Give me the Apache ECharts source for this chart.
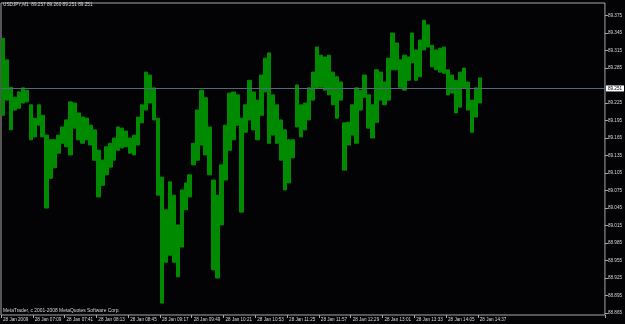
<!DOCTYPE html>
<html>
<head>
<meta charset="UTF-8">
<title>USDJPY,M1</title>
<script src="https://cdn.jsdelivr.net/npm/echarts@6/dist/echarts.min.js"></script>
<style>
  html, body { margin: 0; padding: 0; background: #030306; }
  #chart { width: 625px; height: 324px; }
</style>
</head>
<body>
<div id="chart"></div>
<script>
// highs / lows per 4-minute column
const highs = [
  89.336, 89.299, 89.252, 89.235, 89.244, 89.251, 89.247, 89.222, 89.199, 89.222,
  89.204, 89.170, 89.162, 89.162, 89.170, 89.184, 89.196, 89.227, 89.225, 89.208,
  89.201, 89.199, 89.187, 89.179, 89.144, 89.127, 89.150, 89.156, 89.165, 89.184,
  89.182, 89.177, 89.165, 89.170, 89.201, 89.222, 89.278, 89.273, 89.251, 89.199,
  89.098, 89.042, 89.090, 89.067, 89.016, 89.076, 89.088, 89.102, 89.156, 89.213,
  89.247, 89.234, 89.184, 89.093, 89.067, 89.119, 89.187, 89.242, 89.244, 89.239,
  89.199, 89.222, 89.264, 89.244, 89.230, 89.273, 89.302, 89.311, 89.239, 89.222,
  89.196, 89.179, 89.162, 89.162, 89.256, 89.222, 89.225, 89.251, 89.278, 89.321,
  89.307, 89.304, 89.307, 89.278, 89.270, 89.261, 89.191, 89.192, 89.222, 89.251,
  89.247, 89.273, 89.239, 89.222, 89.282, 89.278, 89.261, 89.302, 89.345, 89.328,
  89.299, 89.307, 89.304, 89.345, 89.316, 89.333, 89.367, 89.359, 89.324, 89.316,
  89.319, 89.321, 89.282, 89.273, 89.264, 89.278, 89.285, 89.261, 89.230, 89.251,
  89.268
];
const lows = [
  89.204, 89.230, 89.179, 89.213, 89.216, 89.225, 89.227, 89.162, 89.167, 89.187,
  89.167, 89.045, 89.096, 89.114, 89.139, 89.156, 89.150, 89.136, 89.182, 89.162,
  89.156, 89.162, 89.153, 89.127, 89.064, 89.084, 89.102, 89.115, 89.127, 89.144,
  89.148, 89.150, 89.139, 89.136, 89.153, 89.191, 89.213, 89.225, 89.196, 89.067,
  88.882, 88.952, 88.964, 88.952, 88.927, 88.978, 89.042, 89.064, 89.119, 89.127,
  89.153, 89.136, 89.102, 88.939, 88.925, 89.016, 89.093, 89.144, 89.162, 89.187,
  89.038, 89.175, 89.196, 89.179, 89.162, 89.204, 89.244, 89.156, 89.170, 89.156,
  89.127, 89.076, 89.088, 89.131, 89.184, 89.167, 89.179, 89.196, 89.230, 89.251,
  89.252, 89.247, 89.239, 89.222, 89.199, 89.230, 89.110, 89.153, 89.170, 89.156,
  89.213, 89.235, 89.182, 89.165, 89.192, 89.230, 89.222, 89.230, 89.282, 89.282,
  89.252, 89.247, 89.264, 89.294, 89.264, 89.270, 89.316, 89.321, 89.287, 89.282,
  89.278, 89.276, 89.239, 89.242, 89.208, 89.218, 89.251, 89.213, 89.175, 89.201,
  89.225
];
const timeLabels = [
  '28 Jan 2009', '28 Jan 07:09', '28 Jan 07:41', '28 Jan 08:13', '28 Jan 08:45',
  '28 Jan 09:17', '28 Jan 09:49', '28 Jan 10:21', '28 Jan 10:53', '28 Jan 11:25',
  '28 Jan 11:57', '28 Jan 12:29', '28 Jan 13:01', '28 Jan 13:33', '28 Jan 14:05',
  '28 Jan 14:37'
];
const priceTicks = [
  88.865, 88.895, 88.925, 88.955, 88.985, 89.015, 89.045, 89.075, 89.105,
  89.135, 89.165, 89.195, 89.225, 89.285, 89.315, 89.345, 89.375
];
const lastPrice = 89.251;
const header = 'USDJPY,M1  89.257 89.260 89.251 89.251';
const footer = 'MetaTrader, c 2001-2008 MetaQuotes Software Corp.';

const totalSlots = 152;   // chart shift leaves empty room on the right
const cats = [];
for (let i = 0; i < totalSlots; i++) {
  cats.push(i % 8 === 0 && timeLabels[i / 8] ? timeLabels[i / 8] : '');
}
const bars = highs.map((h, i) => [lows[i], h, lows[i], h]);

const FONT = "'Liberation Sans', sans-serif";
const TXT = '#d8d8d8';
const green = '#008a00';

const chart = echarts.init(document.getElementById('chart'));
chart.setOption({
  backgroundColor: '#030306',
  animation: false,
  grid: {
    left: 1, right: 19, top: 3, bottom: 9,
    show: true, borderColor: '#a8a8a8', borderWidth: 1,
    backgroundColor: '#030306'
  },
  xAxis: {
    type: 'category',
    data: cats,
    boundaryGap: true,
    axisLine: { show: false },
    axisTick: {
      show: true, length: 3,
      interval: (i, v) => v !== '',
      lineStyle: { color: '#a8a8a8' }
    },
    axisLabel: {
      interval: (i, v) => v !== '',
      align: 'left', margin: 2,
      color: TXT, fontSize: 4.6, fontFamily: FONT
    },
    splitLine: { show: false }
  },
  yAxis: {
    type: 'value',
    position: 'right',
    min: 88.8616,
    max: 89.3965,
    axisLine: { show: false },
    splitLine: { show: false },
    axisTick: {
      show: true, length: 3, customValues: priceTicks,
      lineStyle: { color: '#a8a8a8' }
    },
    axisLabel: {
      customValues: priceTicks,
      formatter: v => v.toFixed(3),
      margin: 3,
      color: TXT, fontSize: 4.6, fontFamily: FONT
    }
  },
  series: [{
    type: 'candlestick',
    data: bars,
    barWidth: 4,
    itemStyle: {
      color: green, color0: green,
      borderColor: green, borderColor0: green, borderWidth: 1
    },
    markLine: {
      silent: true,
      symbol: 'none',
      lineStyle: { color: '#55687a', width: 1, type: 'solid' },
      label: {
        position: 'end',
        formatter: lastPrice.toFixed(3),
        backgroundColor: '#ffffff',
        color: '#000000',
        padding: [1, 2, 0, 2],
        distance: 1,
        fontSize: 4.6, fontFamily: FONT
      },
      data: [{ yAxis: lastPrice }]
    }
  }],
  graphic: [
    { type: 'text', left: 3, top: 2,
      style: { text: header, fill: TXT, fontSize: 4.7, fontFamily: FONT } },
    { type: 'text', left: 3, top: 308,
      style: { text: footer, fill: TXT, fontSize: 4.9, fontFamily: FONT } }
  ]
});
</script>
</body>
</html>
